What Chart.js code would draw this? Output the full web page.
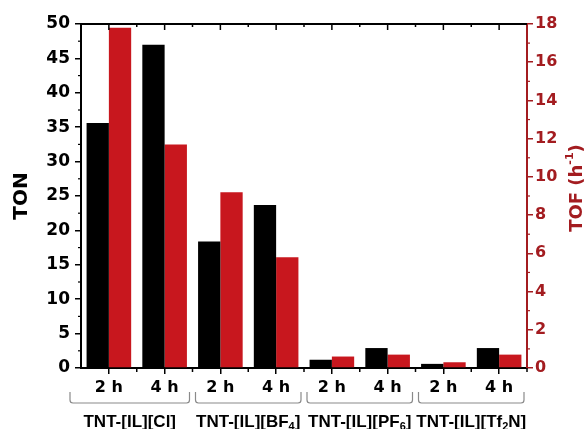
<!DOCTYPE html>
<html>
<head>
<meta charset="utf-8">
<script src="https://cdn.jsdelivr.net/npm/chart.js@4.4.1/dist/chart.umd.min.js"></script>
<style>
  body { margin: 0; background: #fff; }
  #wrap { width: 587px; height: 429px; }
</style>
</head>
<body>
<div id="wrap"><canvas id="chart_ton"></canvas></div>
<script>
// data
var categories = ['2 h', '4 h', '2 h', '4 h', '2 h', '4 h', '2 h', '4 h'];
var groups = ['TNT-[IL][Cl]', 'TNT-[IL][BF4]', 'TNT-[IL][PF6]', 'TNT-[IL][Tf2N]'];
var tonValues = [35.6, 47.0, 18.4, 23.7, 1.2, 2.9, 0.6, 2.9];
var tofValues = [17.8, 11.7, 9.2, 5.8, 0.6, 0.7, 0.3, 0.7];
var tonTicks = [0, 50, 5];   // min, max, step
var tofTicks = [0, 18, 2];

var RED = '#c8171e';
var DARKRED = '#a31c20';
var FAM = '"DejaVu Sans", Verdana, sans-serif';
var NARROW = '"Liberation Sans", Arial, sans-serif';

Chart.defaults.font.family = FAM;
Chart.defaults.font.weight = 'bold';

// brackets, group names, axis titles and minor ticks
var extras = {
    id: 'extras',
    afterDraw: function(chart) {
        var ctx = chart.ctx;
        var x = chart.scales.x, y = chart.scales.y, y2 = chart.scales.y2;
        var area = chart.chartArea;
        var step = x.getPixelForValue(1) - x.getPixelForValue(0);
        ctx.save();

        // top frame line with ticks
        ctx.strokeStyle = '#000';
        ctx.lineWidth = 2;
        ctx.beginPath();
        ctx.moveTo(area.left - 1, area.top);
        ctx.lineTo(area.right, area.top);
        ctx.stroke();
        ctx.lineWidth = 1.5;
        for (var i = 0; i < categories.length; i++) {
            var cx = x.getPixelForValue(i);
            ctx.beginPath();
            ctx.moveTo(cx, area.top); ctx.lineTo(cx, area.top + 6);
            ctx.moveTo(cx - step / 2, area.top); ctx.lineTo(cx - step / 2, area.top + 3);
            ctx.moveTo(cx + step / 2, area.bottom); ctx.lineTo(cx + step / 2, area.bottom + 4);
            ctx.stroke();
        }

        // minor ticks on the value axes
        ctx.lineWidth = 1.2;
        for (var v = tonTicks[0] + tonTicks[2] / 2; v < tonTicks[1]; v += tonTicks[2]) {
            var py = y.getPixelForValue(v);
            ctx.beginPath(); ctx.moveTo(area.left, py); ctx.lineTo(area.left - 3, py); ctx.stroke();
        }
        ctx.strokeStyle = DARKRED;
        for (var w = tofTicks[0] + tofTicks[2] / 2; w < tofTicks[1]; w += tofTicks[2]) {
            var qy = y2.getPixelForValue(w);
            ctx.beginPath(); ctx.moveTo(area.right, qy); ctx.lineTo(area.right + 3, qy); ctx.stroke();
        }

        // group brackets and names
        var perGroup = categories.length / groups.length;
        for (var g = 0; g < groups.length; g++) {
            var x0 = x.getPixelForValue(g * perGroup) - step / 2 + 3;
            var x1 = x.getPixelForValue(g * perGroup + perGroup - 1) + step / 2 - 3;
            if (g === 0) x0 -= 14;
            ctx.strokeStyle = '#8a8a8a';
            ctx.lineWidth = 1.2;
            ctx.beginPath();
            ctx.moveTo(x0, 392);
            ctx.lineTo(x0, 400);
            ctx.quadraticCurveTo(x0, 403, x0 + 3, 403);
            ctx.lineTo(x1 - 3, 403);
            ctx.quadraticCurveTo(x1, 403, x1, 400);
            ctx.lineTo(x1, 392);
            ctx.stroke();
            drawSub(ctx, groups[g], (x0 + x1) / 2, 427);
        }

        // axis titles
        ctx.fillStyle = '#000';
        ctx.font = 'bold 20px ' + FAM;
        ctx.translate(22, 196);
        ctx.rotate(-Math.PI / 2);
        ctx.textAlign = 'center';
        ctx.textBaseline = 'middle';
        ctx.fillText('TON', 0, 0);
        ctx.setTransform(1, 0, 0, 1, 0, 0);

        ctx.translate(577, 188);
        ctx.rotate(-Math.PI / 2);
        ctx.fillStyle = DARKRED;
        ctx.textAlign = 'left';
        ctx.textBaseline = 'middle';
        var big = 'bold 18px ' + FAM;
        var small = 'bold 11px ' + FAM;
        ctx.font = big;
        var a = ctx.measureText('TOF (h').width, c = ctx.measureText(')').width;
        ctx.font = small;
        var b = ctx.measureText('-1').width;
        var sx = -(a + b + c) / 2;
        ctx.font = big; ctx.fillText('TOF (h', sx, 0);
        ctx.font = small; ctx.fillText('-1', sx + a, -7);
        ctx.font = big; ctx.fillText(')', sx + a + b, 0);
        ctx.restore();
    }
};

// digits in the anion names are subscripts
function drawSub(ctx, text, cx, base) {
    var big = 'bold 17px ' + NARROW;
    var small = 'bold 11px ' + NARROW;
    var parts = text.match(/\d+|\D+/g);
    var widths = [], total = 0;
    parts.forEach(function(p) {
        ctx.font = /\d/.test(p) ? small : big;
        var wd = ctx.measureText(p).width;
        widths.push(wd);
        total += wd;
    });
    var px = cx - total / 2;
    ctx.fillStyle = '#000';
    ctx.textAlign = 'left';
    ctx.textBaseline = 'alphabetic';
    parts.forEach(function(p, k) {
        var sub = /\d/.test(p);
        ctx.font = sub ? small : big;
        ctx.fillText(p, px, sub ? base + 3 : base);
        px += widths[k];
    });
}

var canvas = document.getElementById('chart_ton').getContext('2d');
window.bar = new Chart(canvas, {
    type: 'bar',
    data: {
        labels: categories,
        datasets: [{
            label: 'TON',
            data: tonValues,
            backgroundColor: '#000',
            yAxisID: 'y',
            categoryPercentage: 0.8,
            barPercentage: 1.0
        }, {
            label: 'TOF',
            data: tofValues,
            backgroundColor: RED,
            yAxisID: 'y2',
            categoryPercentage: 0.8,
            barPercentage: 1.0
        }]
    },
    options: {
        responsive: true,
        maintainAspectRatio: false,
        animation: false,
        layout: { padding: { top: 24 } },
        plugins: { legend: { display: false }, tooltip: { enabled: false } },
        scales: {
            x: {
                afterFit: function(s) { s.height = 61; },
                border: { color: '#000', width: 2 },
                grid: { drawOnChartArea: false, offset: false, tickLength: 6, color: '#000', lineWidth: 1.5 },
                ticks: { color: '#000', font: { size: 16, weight: 'bold' }, padding: 4, maxRotation: 0, autoSkip: false }
            },
            y: {
                position: 'left',
                min: tonTicks[0], max: tonTicks[1],
                afterFit: function(s) { s.width = 81; },
                border: { color: '#000', width: 2 },
                grid: { drawOnChartArea: false, tickLength: 6, color: '#000', lineWidth: 1.5 },
                ticks: { stepSize: tonTicks[2], color: '#000', font: { size: 17, weight: 'bold' }, padding: 5 }
            },
            y2: {
                position: 'right',
                min: tofTicks[0], max: tofTicks[1],
                afterFit: function(s) { s.width = 60; },
                border: { color: DARKRED, width: 2 },
                grid: { drawOnChartArea: false, tickLength: 6, color: DARKRED, lineWidth: 1.5 },
                ticks: { stepSize: tofTicks[2], color: DARKRED, font: { size: 16, weight: 'bold' }, padding: 2 }
            }
        }
    },
    plugins: [extras]
});
</script>
</body>
</html>
